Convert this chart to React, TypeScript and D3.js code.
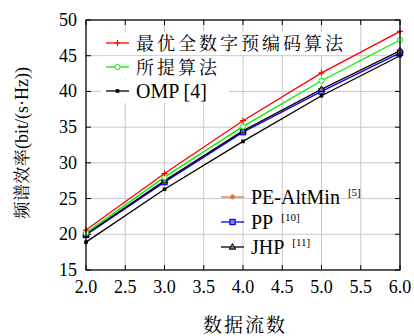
import React from 'react';
import * as d3 from 'd3';

const streams = [2, 3, 4, 5, 6];
const optimal = [20.6, 28.5, 35.9, 42.6, 48.4];
const proposed = [20.2, 28.0, 35.1, 41.5, 47.2];
const omp = [18.9, 26.3, 33.0, 39.4, 45.0];
const peAltMin = [20.0, 27.5, 34.5, 40.3, 45.7];
const pp = [19.9, 27.3, 34.3, 40.0, 45.4];
const jhp = [20.0, 27.5, 34.5, 40.3, 45.7];

const xTicks = [2, 2.5, 3, 3.5, 4, 4.5, 5, 5.5, 6];
const yTicks = [15, 20, 25, 30, 35, 40, 45, 50];

const SERIF = "'Liberation Serif'";
const CJK = "'Noto Serif CJK SC'";

type Series = { name: string; sup?: string; values: number[]; color: string; marker: string };

const series: Series[] = [
  { name: 'PE-AltMin', sup: '[5]', values: peAltMin, color: '#e2723e', marker: 'dot' },
  { name: 'PP', sup: '[10]', values: pp, color: '#0000ff', marker: 'square' },
  { name: 'JHP', sup: '[11]', values: jhp, color: '#000000', marker: 'triangle' },
  { name: 'OMP [4]', values: omp, color: '#000000', marker: 'smallsquare' },
  { name: '所提算法', values: proposed, color: '#00ee00', marker: 'circle' },
  { name: '最优全数字预编码算法', values: optimal, color: '#ff0000', marker: 'plus' },
];

function Marker({ type, x, y, color }: { type: string; x: number; y: number; color: string }) {
  if (type === 'plus')
    return <path d={`M${x - 3},${y}H${x + 3}M${x},${y - 3}V${y + 3}`} stroke={color} strokeWidth={1.2} />;
  if (type === 'circle') return <circle cx={x} cy={y} r={2.6} fill="white" stroke={color} strokeWidth={1} />;
  if (type === 'dot') return <circle cx={x} cy={y} r={2.4} fill={color} />;
  if (type === 'square')
    return <rect x={x - 2.6} y={y - 2.6} width={5.2} height={5.2} fill="#8080ff" stroke={color} strokeWidth={1.2} />;
  if (type === 'smallsquare') return <rect x={x - 1.8} y={y - 1.8} width={3.6} height={3.6} fill={color} />;
  if (type === 'triangle')
    return (
      <path d={`M${x},${y - 3.4}L${x + 3.2},${y + 2.2}L${x - 3.2},${y + 2.2}Z`} fill="#777" stroke={color} strokeWidth={1} />
    );
  return null;
}

export default function App() {
  const left = 86, right = 400, top = 20, bottom = 270;
  const x = d3.scaleLinear().domain([2, 6]).range([left, right]);
  const y = d3.scaleLinear().domain([15, 50]).range([bottom, top]);
  const line = d3
    .line<number>()
    .x((_, i) => x(streams[i]))
    .y((d) => y(d));

  const legend1 = [series[5], series[4], series[3]];
  const legend2 = [series[0], series[1], series[2]];

  return (
    <svg width={414} height={336} style={{ position: 'absolute', left: 0, top: 0, background: 'white' }}>
      {/* grid */}
      {xTicks.map((t) => (
        <line key={'gx' + t} x1={x(t)} x2={x(t)} y1={top} y2={bottom} stroke="#c8c8c8" strokeWidth={1} />
      ))}
      {yTicks.map((t) => (
        <line key={'gy' + t} x1={left} x2={right} y1={y(t)} y2={y(t)} stroke="#c8c8c8" strokeWidth={1} />
      ))}
      {/* ticks inside */}
      {xTicks.map((t) => (
        <g key={'tx' + t}>
          <line x1={x(t)} x2={x(t)} y1={bottom} y2={bottom - 5} stroke="black" />
          <line x1={x(t)} x2={x(t)} y1={top} y2={top + 5} stroke="black" />
          <text x={x(t)} y={bottom + 23} textAnchor="middle" style={{ fontFamily: SERIF, fontSize: 18 }}>
            {t.toFixed(1)}
          </text>
        </g>
      ))}
      {yTicks.map((t) => (
        <g key={'ty' + t}>
          <line x1={left} x2={left + 5} y1={y(t)} y2={y(t)} stroke="black" />
          <line x1={right} x2={right - 5} y1={y(t)} y2={y(t)} stroke="black" />
          <text x={left - 9} y={y(t) + 6} textAnchor="end" style={{ fontFamily: SERIF, fontSize: 18 }}>
            {t}
          </text>
        </g>
      ))}

      {/* legend 1 backgrounds */}
      {legend1.map((s, i) => (
        <rect key={'bg' + i} x={101} y={32 + i * 24} width={i === 0 ? 250 : i === 1 ? 120 : 128} height={23} fill="white" />
      ))}

      {/* series */}
      {series.map((s) => (
        <g key={s.name}>
          <path d={line(s.values) || ''} fill="none" stroke={s.color} strokeWidth={1.3} />
          {s.values.map((v, i) => (
            <Marker key={i} type={s.marker} x={x(streams[i])} y={y(v)} color={s.color} />
          ))}
        </g>
      ))}

      {/* legend 1 */}
      {legend1.map((s, i) => {
        const cy = 43 + i * 24;
        return (
          <g key={'l1' + i}>
            <line x1={106} x2={129} y1={cy} y2={cy} stroke={s.color} strokeWidth={1.3} />
            <Marker type={s.marker} x={117.5} y={cy} color={s.color} />
            <text
              x={136}
              y={cy + 7}
              style={{
                fontFamily: i === 2 ? SERIF : CJK,
                fontSize: i === 2 ? 20 : 18,
                letterSpacing: i === 2 ? 0 : 3,
              }}
            >
              {s.name}
            </text>
          </g>
        );
      })}

      {/* legend 2 */}
      {legend2.map((s, i) => {
        const cy = 197 + i * 25;
        return (
          <g key={'l2' + i}>
            <line x1={221} x2={244} y1={cy} y2={cy} stroke={s.color} strokeWidth={1.3} />
            <Marker type={s.marker} x={232.5} y={cy} color={s.color} />
            <text x={251} y={cy + 7} style={{ fontFamily: SERIF, fontSize: 20 }}>
              {s.name}
              <tspan dx={8} dy={-8} style={{ fontSize: 11 }}>
                {s.sup}
              </tspan>
            </text>
          </g>
        );
      })}

      {/* frame */}
      <rect x={left} y={top} width={right - left} height={bottom - top} fill="none" stroke="black" strokeWidth={1.2} />

      {/* axis titles */}
      <text x={245} y={332} textAnchor="middle" style={{ fontFamily: CJK, fontSize: 19, letterSpacing: 2 }}>
        数据流数
      </text>
      <text transform={`translate(28,143) rotate(-90)`} textAnchor="middle" style={{ fontSize: 17.5 }}>
        <tspan style={{ fontFamily: CJK }}>频谱效率</tspan>
        <tspan style={{ fontFamily: SERIF, fontSize: 18 }}>(bit/(s·Hz))</tspan>
      </text>
    </svg>
  );
}
